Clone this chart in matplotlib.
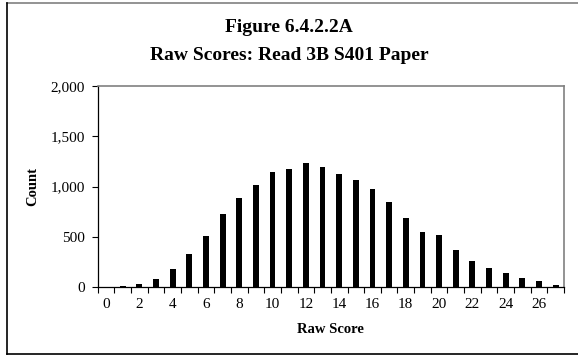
import numpy as np
import matplotlib
matplotlib.use("Agg")
import matplotlib.pyplot as plt
from matplotlib.lines import Line2D

# --- data ---
scores = list(range(28))
counts = [5, 10, 30, 80, 185, 330, 505, 730, 890, 1015,
          1150, 1173, 1236, 1200, 1130, 1070, 980, 846, 690, 553,
          520, 370, 263, 190, 146, 93, 60, 23]
tick_labels = [str(s) if s % 2 == 0 else "" for s in scores]
y_ticks = [0, 500, 1000, 1500, 2000]

plt.rcParams['font.family'] = ['Liberation Serif', 'DejaVu Serif']

W, H = 578, 356
fig = plt.figure(figsize=(W / 100, H / 100), dpi=100)

# plot area in pixel terms
left, right, top, bottom = 97.7, 564.0, 86.0, 287.3
ax = fig.add_axes([left / W, 1 - bottom / H, (right - left) / W, (bottom - top) / H])

ax.bar(scores, counts, width=0.35, color='black')

ax.set_xlim(-0.5, 27.5)
ax.set_ylim(0, 2000)
ax.set_yticks(y_ticks)
ax.set_yticklabels([f"{v:,}" for v in y_ticks])
ax.set_xticks(scores)
ax.set_xticklabels(tick_labels)
ax.set_xticks(np.arange(-0.5, 28, 1), minor=True)
ax.tick_params(axis='x', which='major', length=0, labelsize=11, pad=7.5)
ax.tick_params(axis='x', which='minor', length=4, width=0.8, direction='out')
ax.tick_params(axis='y', length=4, width=0.8, labelsize=11, pad=5)

for side in ['left', 'bottom']:
    ax.spines[side].set_color('black')
    ax.spines[side].set_linewidth(0.9)
for side in ['top', 'right']:
    ax.spines[side].set_color('#808080')
    ax.spines[side].set_linewidth(1.2)

ax.set_xlabel('Raw Score', fontsize=10.5, fontweight='bold', labelpad=9)
ax.set_ylabel('Count', fontsize=10.5, fontweight='bold', labelpad=8)

fig.text(0.5, 1 - 28 / H, 'Figure 6.4.2.2A', ha='center', va='center',
         fontsize=14, fontweight='bold')
fig.text(0.5, 1 - 55 / H, 'Raw Scores: Read 3B S401 Paper', ha='center', va='center',
         fontsize=14, fontweight='bold')

# outer chart frame
fl, fr, ft, fb = 6.5 / W, 1.0, 1 - 3 / H, 1 - 354 / H
fig.add_artist(Line2D([fl, fr], [ft, ft], color='#808080', lw=1.2, transform=fig.transFigure))
fig.add_artist(Line2D([fl, fl], [fb, ft], color='black', lw=1.2, transform=fig.transFigure))
fig.add_artist(Line2D([fl, fr], [fb, fb], color='black', lw=1.2, transform=fig.transFigure))

fig.savefig('out.png', dpi=100)
